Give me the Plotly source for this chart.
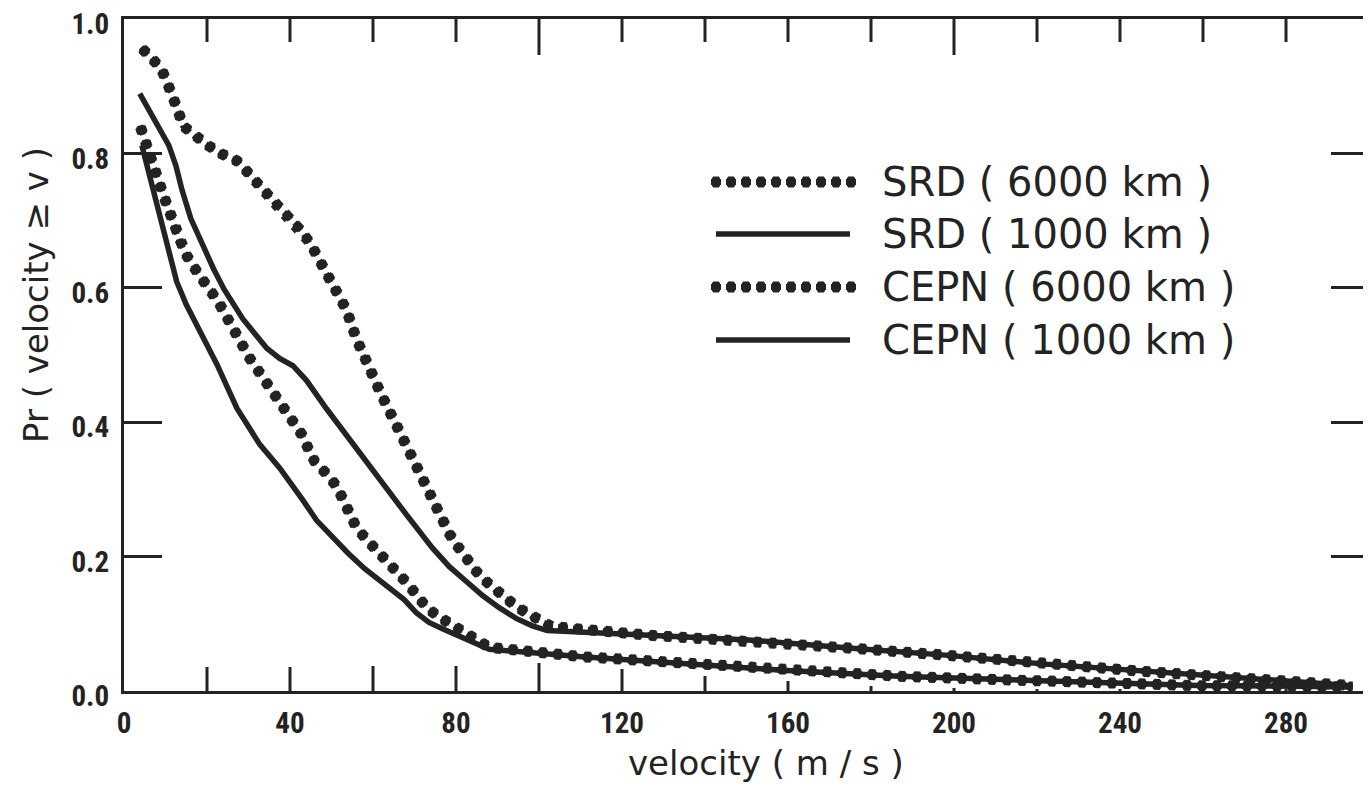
import plotly.graph_objects as go

# ---------------- data ----------------
SRD6000_V = [3.6, 6.5, 8.9, 10.3, 11.8, 13.0, 14.2, 17.1, 20.2, 23.3, 27.2, 29.8, 32.5, 34.9,
             37.0, 39.9, 42.8, 44.7, 46.4, 50.0, 53.6, 56.0, 58.7, 62.0, 65.2, 68.3, 71.7,
             74.8, 78.4, 80.3, 82.5, 84.9, 87.6, 90.4, 93.3, 96.0, 99.3, 103.0, 126.5,
             150.6, 174.6, 198.7, 222.0, 246.0, 270.0, 296.0]
SRD6000_P = [0.961, 0.944, 0.927, 0.907, 0.886, 0.864, 0.841, 0.825, 0.812, 0.800, 0.789,
             0.772, 0.754, 0.737, 0.721, 0.705, 0.686, 0.668, 0.649, 0.606, 0.567, 0.524,
             0.483, 0.441, 0.401, 0.360, 0.320, 0.278, 0.234, 0.216, 0.197, 0.178, 0.161,
             0.145, 0.132, 0.120, 0.107, 0.096, 0.083, 0.075, 0.064, 0.053, 0.040, 0.029,
             0.019, 0.008]

SRD1000_V = [3.8, 7.9, 10.8, 12.5, 14.0, 16.1, 18.8, 21.6, 24.1, 28.6, 34.4, 37.5, 40.7,
             44.0, 48.8, 55.1, 61.6, 68.1, 74.3, 78.4, 82.5, 86.4, 90.4, 94.5, 98.4, 102.0,
             126.5, 150.6, 174.6, 198.7, 222.0, 246.0, 270.0, 296.0]
SRD1000_P = [0.889, 0.846, 0.812, 0.782, 0.745, 0.703, 0.664, 0.628, 0.598, 0.554, 0.510,
             0.495, 0.484, 0.462, 0.420, 0.368, 0.315, 0.262, 0.213, 0.185, 0.163, 0.142,
             0.124, 0.108, 0.097, 0.090, 0.083, 0.076, 0.064, 0.053, 0.040, 0.029, 0.019,
             0.008]

CEPN6000_V = [3.6, 4.8, 6.0, 7.2, 8.4, 9.6, 10.8, 12.0, 13.2, 14.9, 16.8, 18.8, 20.9, 23.1,
              26.7, 30.3, 34.4, 38.7, 42.8, 44.3, 45.9, 48.8, 51.2, 52.7, 54.4, 56.0, 58.5,
              61.1, 63.5, 65.9, 68.3, 70.7, 73.1, 76.0, 79.1, 82.0, 85.2, 88.0, 110.4, 134.5,
              158.5, 186.7, 210.7, 234.8, 258.8, 282.9, 296.0]
CEPN6000_P = [0.846, 0.822, 0.803, 0.779, 0.759, 0.736, 0.716, 0.693, 0.672, 0.650, 0.631,
              0.613, 0.597, 0.575, 0.535, 0.495, 0.458, 0.421, 0.382, 0.362, 0.342, 0.323,
              0.305, 0.286, 0.264, 0.243, 0.225, 0.209, 0.191, 0.176, 0.160, 0.141, 0.123,
              0.110, 0.098, 0.087, 0.076, 0.065, 0.051, 0.041, 0.031, 0.022, 0.017, 0.011,
              0.008, 0.007, 0.006]

CEPN1000_V = [4.3, 6.0, 7.7, 9.1, 10.8, 12.7, 15.0, 17.6, 22.4, 27.2, 32.7, 37.5, 40.5, 43.1,
              46.4, 50.3, 54.0, 58.0, 62.0, 64.7, 67.5, 70.5, 73.5, 77.0, 82.5, 88.0, 110.4,
              134.5, 158.5, 186.7, 210.7, 234.8, 258.8, 282.9, 296.0]
CEPN1000_P = [0.812, 0.772, 0.732, 0.693, 0.653, 0.609, 0.575, 0.545, 0.486, 0.421, 0.367,
              0.332, 0.308, 0.284, 0.254, 0.228, 0.205, 0.182, 0.163, 0.150, 0.136, 0.116,
              0.102, 0.092, 0.078, 0.062, 0.051, 0.041, 0.031, 0.022, 0.017, 0.011, 0.008,
              0.007, 0.006]

SERIES_NAMES = ["SRD ( 6000 km )", "SRD ( 1000 km )", "CEPN ( 6000 km )", "CEPN ( 1000 km )"]
SERIES_STYLE = ["dots", "solid", "dots", "solid"]

X_TICK_VALUES = [0, 20, 40, 60, 80, 100, 120, 140, 160, 180, 200, 220, 240, 260, 280, 300]
X_TICK_LABELS = ["0", "", "40", "", "80", "", "120", "", "160", "", "200", "", "240", "", "280", ""]
Y_TICK_VALUES = [0.0, 0.2, 0.4, 0.6, 0.8, 1.0]
Y_TICK_LABELS = ["0.0", "0.2", "0.4", "0.6", "0.8", "1.0"]

# ---------------- styling ----------------
PAGE_OFFSET = 8                      # default body margin of the html page
W, H = 1371 - PAGE_OFFSET, 788 - PAGE_OFFSET
# plot frame in screenshot pixels: left 124, right 1369, top 19, bottom 691
ML = 124 - PAGE_OFFSET
MT = 19 - PAGE_OFFSET
MR = W - (1369 - PAGE_OFFSET)
MB = H - (691 - PAGE_OFFSET)
PW, PH = W - ML - MR, H - MT - MB
INK = "#232323"
SOLID_W = 5.5
# three stacked dash layers approximate round dots (pitch 15 px, ~11 px diameter)
DOT_LAYERS = [(11, "0px,5px,6px,4px"), (9, "0px,4px,8px,3px"), (6, "0px,3px,10px,2px")]
TICK_FONT = dict(family="Liberation Sans Narrow, Roboto Condensed, Roboto, sans-serif",
                 size=29, color=INK, weight="bold")
TEXT_FONT_FAMILY = "DejaVu Sans, Liberation Sans, sans-serif"
# tick marks of the x axis, drawn as in the scanned original (lengths in px)
BOTTOM_TICK_LEN = [0, 24, 24, 25, 25, 28, 22, 15, 10, 5, 3, 2, 2, 2, 2, 0]
TOP_TICK_LEN = [0, 23, 23, 23, 23, 36, 23, 23, 23, 23, 36, 23, 23, 23, 23, 0]


def px_x(px):
    """screenshot x pixel -> paper coordinate"""
    return (px - PAGE_OFFSET - ML) / PW


def px_y(py):
    """screenshot y pixel -> paper coordinate"""
    return (H - MB - (py - PAGE_OFFSET)) / PH


fig = go.Figure()

data = [(SRD6000_V, SRD6000_P), (SRD1000_V, SRD1000_P),
        (CEPN6000_V, CEPN6000_P), (CEPN1000_V, CEPN1000_P)]

# solid curves first, dotted on top
for (v, p), style in zip(data, SERIES_STYLE):
    if style == "solid":
        fig.add_trace(go.Scatter(x=v, y=p, mode="lines", showlegend=False, hoverinfo="skip",
                                 line=dict(color=INK, width=SOLID_W)))
for (v, p), style in zip(data, SERIES_STYLE):
    if style == "dots":
        for w, dash in DOT_LAYERS:
            fig.add_trace(go.Scatter(x=v, y=p, mode="lines", showlegend=False, hoverinfo="skip",
                                     line=dict(color=INK, width=w, dash=dash)))

# hand-drawn legend on an overlay axis (0..1 in both directions)
LEG_ROWS_PX = [182, 234, 287, 340]
LEG_DOT_X_PX = [708, 858]
LEG_SOLID_X_PX = [716, 850]
LEG_TEXT_X_PX = 880
for name, style, ry in zip(SERIES_NAMES, SERIES_STYLE, LEG_ROWS_PX):
    yy = [px_y(ry), px_y(ry)]
    if style == "dots":
        xx = [px_x(LEG_DOT_X_PX[0]), px_x(LEG_DOT_X_PX[1])]
        for w, dash in DOT_LAYERS:
            fig.add_trace(go.Scatter(x=xx, y=yy, xaxis="x2", yaxis="y2", mode="lines",
                                     showlegend=False, hoverinfo="skip",
                                     line=dict(color=INK, width=w, dash=dash)))
    else:
        xx = [px_x(LEG_SOLID_X_PX[0]), px_x(LEG_SOLID_X_PX[1])]
        fig.add_trace(go.Scatter(x=xx, y=yy, xaxis="x2", yaxis="y2", mode="lines",
                                 showlegend=False, hoverinfo="skip",
                                 line=dict(color=INK, width=SOLID_W)))
    fig.add_annotation(x=px_x(LEG_TEXT_X_PX), y=px_y(ry), xref="paper", yref="paper",
                       text=name, showarrow=False, xanchor="left", yanchor="middle",
                       font=dict(family=TEXT_FONT_FAMILY, size=40, color=INK))

# axis titles
fig.add_annotation(x=px_x(766), y=px_y(763), xref="paper", yref="paper",
                   text="velocity ( m / s )", showarrow=False, xanchor="center", yanchor="middle",
                   font=dict(family=TEXT_FONT_FAMILY, size=34, color=INK))
fig.add_annotation(x=px_x(36), y=px_y(295), xref="paper", yref="paper", textangle=-90,
                   text="Pr ( velocity ≥ v )", showarrow=False, xanchor="center", yanchor="middle",
                   font=dict(family=TEXT_FONT_FAMILY, size=34, color=INK))

# x-axis tick marks, bottom and top (variable length, as in the scan)
for xv, lb, lt in zip(X_TICK_VALUES, BOTTOM_TICK_LEN, TOP_TICK_LEN):
    if lb > 0:
        fig.add_shape(type="line", xref="x", yref="paper", x0=xv, x1=xv, y0=0, y1=lb / PH,
                      line=dict(color=INK, width=3))
    if lt > 0:
        fig.add_shape(type="line", xref="x", yref="paper", x0=xv, x1=xv, y0=1, y1=1 - lt / PH,
                      line=dict(color=INK, width=3))

fig.update_layout(
    width=W, height=H,
    margin=dict(l=ML, r=MR, t=MT, b=MB, pad=0, autoexpand=False),
    paper_bgcolor="white", plot_bgcolor="white",
    showlegend=False,
    xaxis=dict(range=[0, 300], tickmode="array", tickvals=X_TICK_VALUES, ticktext=X_TICK_LABELS,
               ticks="inside", ticklen=24, tickcolor="rgba(0,0,0,0)", ticklabelstandoff=4,
               showgrid=False, zeroline=False, showline=True, linecolor=INK, linewidth=3,
               mirror=True, tickfont=TICK_FONT, automargin=False, ticklabeloverflow="allow"),
    yaxis=dict(range=[0, 1], tickmode="array", tickvals=Y_TICK_VALUES, ticktext=Y_TICK_LABELS,
               ticks="inside", ticklen=38, tickcolor=INK, tickwidth=3, ticklabelstandoff=6,
               ticklabelshift=5,
               showgrid=False, zeroline=False, showline=True, linecolor=INK, linewidth=3,
               mirror="ticks", tickfont=TICK_FONT, automargin=False, ticklabeloverflow="allow"),
    xaxis2=dict(range=[0, 1], overlaying="x", visible=False, fixedrange=True),
    yaxis2=dict(range=[0, 1], overlaying="y", visible=False, fixedrange=True),
)

fig.write_html("out.html")
